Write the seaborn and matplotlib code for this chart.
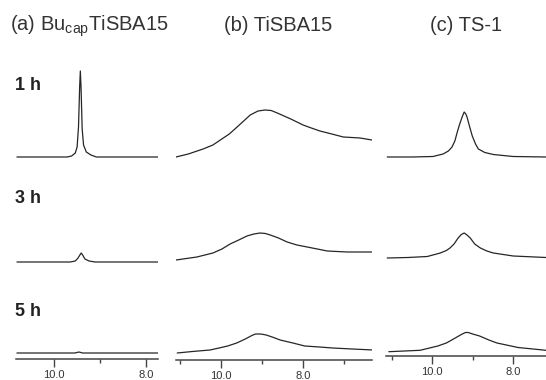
import matplotlib
matplotlib.use("Agg")
import matplotlib.pyplot as plt
import seaborn as sns

# chemical shift (ppm) and peak height above each trace's baseline
a_1h_ppm = [10.81, 9.72, 9.62, 9.54, 9.50, 9.47, 9.445, 9.43, 9.415, 9.39, 9.36, 9.30, 9.20, 9.08, 7.74]
a_1h_int = [0, 0, 1, 4, 10, 30, 70, 86, 70, 28, 12, 5, 2, 0, 0]
a_3h_ppm = [10.81, 9.65, 9.54, 9.48, 9.44, 9.41, 9.38, 9.33, 9.24, 9.11, 7.74]
a_3h_int = [-1, -1, 0, 3, 6, 8, 6, 2, 0, -1, -1]
a_5h_ppm = [10.81, 9.55, 9.46, 9.38, 7.74]
a_5h_int = [0, 0, 1, 0, 0]

b_1h_ppm = [11.10, 10.80, 10.44, 10.20, 10.02, 9.80, 9.61, 9.45, 9.29, 9.10, 8.93, 8.78, 8.63,
            8.30, 8.00, 7.80, 7.59, 7.30, 7.02, 6.61, 6.32]
b_1h_int = [0, 3, 8, 12, 17, 23, 30, 36, 42, 46, 47, 46.5, 44, 38, 32, 29, 26, 23, 20, 19, 17]
b_3h_ppm = [11.10, 10.59, 10.20, 9.98, 9.78, 9.57, 9.37, 9.20, 9.05, 8.92, 8.80, 8.60, 8.39,
            8.15, 7.90, 7.41, 6.93, 6.32]
b_3h_int = [1, 4, 8, 12, 17, 21, 25, 27, 28, 27.5, 26, 23, 19, 16, 14, 10, 9, 9]
b_5h_ppm = [11.07, 10.70, 10.27, 10.05, 9.84, 9.62, 9.41, 9.25, 9.16, 9.03, 8.90, 8.72, 8.56,
            8.25, 7.96, 7.60, 7.28, 6.80, 6.29]
b_5h_int = [0, 1.5, 3, 5, 7, 10, 14, 17.5, 19, 19, 18, 15.5, 13, 10, 7, 6, 5, 4, 3]

c_1h_ppm = [11.11, 10.50, 9.98, 9.73, 9.60, 9.51, 9.44, 9.38, 9.32, 9.26, 9.21, 9.17, 9.14,
            9.08, 9.01, 8.93, 8.86, 8.70, 8.49, 8.00, 7.19]
c_1h_int = [0, 0, 0.5, 3, 6, 10, 16, 25, 33, 40, 45, 43, 40, 31, 21, 13, 8, 4.5, 2.5, 0.5, 0]
c_3h_ppm = [11.11, 10.60, 10.12, 9.80, 9.65, 9.56, 9.46, 9.36, 9.28, 9.21, 9.14, 9.06, 8.95,
            8.81, 8.65, 8.49, 8.00, 7.19]
c_3h_int = [3, 3.5, 4.5, 8, 10.5, 13, 17, 23, 26.5, 28, 26, 23, 17, 13, 10, 8, 5, 3.5]
c_5h_ppm = [11.07, 10.30, 9.86, 9.65, 9.43, 9.28, 9.18, 9.11, 9.00, 8.83, 8.60, 8.40, 7.88, 7.19]
c_5h_int = [1.3, 2.7, 7, 10, 15, 18.5, 20.5, 20.5, 19, 17, 13, 10, 5.5, 2.7]

titles = ["(a) Bu$_{\\mathrm{cap}}$TiSBA15", "(b) TiSBA15", "(c) TS-1"]
times = ["1 h", "3 h", "5 h"]
tick_major = [10, 8]
tick_labels = ["10.0", "8.0"]

sns.set_style("ticks")
plt.rcParams["font.family"] = ["Liberation Sans", "DejaVu Sans"]
plt.rcParams["mathtext.fontset"] = "custom"
plt.rcParams["mathtext.rm"] = "Liberation Sans"

W, H = 546, 380
fig = plt.figure(figsize=(W / 100, H / 100), dpi=100)

# panel layout in pixels: left, right, axis line, x limits, minor ticks
panels = [
    dict(l=16, r=158, b=359, xlim=(10.83, 7.74), minor=[9],
         data=[(a_1h_ppm, a_1h_int), (a_3h_ppm, a_3h_int), (a_5h_ppm, a_5h_int)]),
    dict(l=176, r=372, b=360, xlim=(11.10, 6.32), minor=[11, 9, 7],
         data=[(b_1h_ppm, b_1h_int), (b_3h_ppm, b_3h_int), (b_5h_ppm, b_5h_int)]),
    dict(l=386, r=546, b=356, xlim=(11.14, 7.19), minor=[11, 9],
         data=[(c_1h_ppm, c_1h_int), (c_3h_ppm, c_3h_int), (c_5h_ppm, c_5h_int)]),
]
row_base = [157, 261, 353]  # baseline pixel row of each time trace
top = 40

for p in panels:
    ax = fig.add_axes([p["l"] / W, (H - p["b"]) / H, (p["r"] - p["l"]) / W, (p["b"] - top) / H])
    for (ppm, inten), base in zip(p["data"], row_base):
        off = p["b"] - base
        sns.lineplot(x=ppm, y=[v + off for v in inten], ax=ax, color="#262626",
                     linewidth=0.9, estimator=None)
    ax.set_xlim(*p["xlim"])
    ax.set_ylim(0, p["b"] - top)
    for s in ["top", "left", "right"]:
        ax.spines[s].set_visible(False)
    ax.spines["bottom"].set_color("#444444")
    ax.spines["bottom"].set_linewidth(1.1)
    ax.set_yticks([])
    ax.set_xticks(tick_major)
    ax.set_xticklabels(tick_labels)
    ax.set_xticks(p["minor"], minor=True)
    ax.tick_params(axis="x", which="major", length=6, width=1, color="#444444",
                   labelsize=8, labelcolor="#333333", pad=2, bottom=True)
    ax.tick_params(axis="x", which="minor", length=3, width=1, color="#444444", bottom=True)
    ax.set_xlabel("")
    ax.set_ylabel("")

title_x = [10, 224, 430]
for t, x in zip(titles, title_x):
    fig.text(x / W, 1 - 31 / H, t, fontsize=14.5, color="#333333", va="baseline", ha="left")

time_y = [90, 203, 316]
for t, y in zip(times, time_y):
    fig.text(15 / W, 1 - y / H, t, fontsize=13, fontweight="bold", color="#222222",
             va="baseline", ha="left")

fig.savefig("out.png", dpi=100)
